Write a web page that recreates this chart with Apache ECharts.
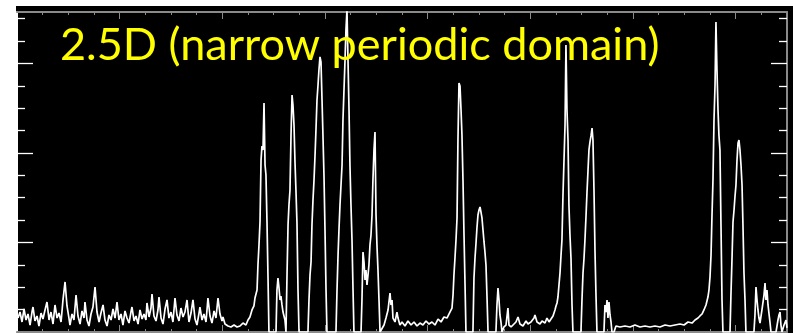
<!DOCTYPE html>
<html>
<head>
<meta charset="utf-8">
<script src="https://cdn.jsdelivr.net/npm/echarts@6/dist/echarts.min.js"></script>
<style>
  html, body { margin: 0; padding: 0; background: #ffffff; }
  #panel { position: absolute; left: 16px; top: 6px; width: 777px; height: 327px; background: #000000; }
  #chart { position: absolute; left: 0; top: 0; width: 793px; height: 333px; }
</style>
</head>
<body>
<div id="panel"></div>
<div id="chart"></div>
<script>
// ---- data ----
const titleText = '2.5D (narrow periodic domain)';

// x position along the domain (arbitrary units, 0..750)
const xs = [
  1.0, 2.9, 4.9, 6.8, 8.8, 10.7, 12.7, 14.6, 15.6, 17.5, 19.5, 21.4, 23.4, 25.3, 27.3, 29.2, 31.2, 33.1, 35.1, 37.0,
  39.0, 40.9, 42.9, 44.8, 46.8, 48.7, 50.6, 51.6, 53.6, 55.5, 57.5, 59.4, 61.4, 63.3, 65.3, 66.2, 68.2, 70.1, 72.1, 74.0,
  76.0, 77.9, 79.9, 81.8, 83.8, 85.7, 87.7, 89.6, 91.6, 93.5, 95.5, 97.4, 99.3, 101.3, 103.2, 105.2, 107.1, 109.1, 111.0, 112.0,
  114.0, 115.9, 117.9, 119.8, 121.8, 123.7, 125.6, 126.6, 128.6, 130.5, 131.5, 133.4, 135.4, 137.3, 138.3, 140.3, 142.2, 144.2, 146.1, 148.0,
  150.0, 151.9, 153.9, 155.8, 157.8, 159.7, 161.7, 163.6, 165.6, 167.5, 169.5, 171.4, 173.4, 175.3, 177.3, 178.2, 180.2, 182.1, 184.1, 186.0,
  188.0, 189.9, 191.9, 193.8, 195.8, 197.7, 199.7, 200.6, 202.6, 205.5, 208.4, 211.4, 214.3, 217.2, 220.1, 223.0, 225.0, 226.9,
  228.9, 230.8, 231.8, 233.8, 234.7, 235.7, 236.7, 237.7, 238.6, 239.6, 240.6, 241.6, 242.5, 243.5, 244.5, 245.4,
  252.3, 253.2, 254.2, 255.2, 256.2, 257.1, 258.1, 259.1, 261.0, 262.0,
  263.0, 264.0, 264.9, 265.9, 266.9, 267.9, 268.8, 269.8, 270.8, 271.7, 272.7, 273.7, 274.7, 283.4,
  284.4, 285.4, 286.4, 287.3, 288.3, 289.3, 290.3, 291.2, 292.2, 293.2, 294.1, 295.1, 296.1, 297.1, 298.0, 299.0, 300.0, 301.0, 301.9, 310.7,
  311.7, 312.7, 313.6, 314.6, 315.6, 316.6, 317.5, 318.5, 319.5, 320.4, 321.4, 322.4, 323.4, 324.3, 325.3, 326.3, 327.3, 328.2, 335.1,
  336.0, 337.0, 338.0, 339.0, 339.9, 340.9, 341.9, 342.8, 343.8, 344.8, 345.8, 346.7, 347.7, 348.7, 349.7, 350.6, 351.6, 352.6, 353.6,
  355.5, 357.5, 359.4, 361.4, 363.3, 364.3, 365.3, 366.2, 368.2, 370.1, 371.1, 373.0, 375.0, 377.9, 380.8, 383.8, 386.7, 389.6, 392.5, 395.4,
  398.4, 401.3, 404.2, 407.1, 410.1, 413.0, 415.9, 418.8, 421.7, 423.7,
  424.7, 425.6, 426.6, 427.6, 428.6, 429.5, 430.5, 431.5, 432.5, 433.4, 434.4, 435.4, 436.4, 437.3, 444.1,
  445.1, 446.1, 447.1, 448.0, 449.0, 450.0, 451.0, 451.9, 452.9, 453.9, 454.9, 455.8, 456.8, 457.8, 458.8, 466.5,
  467.5, 468.5, 469.5, 470.4, 471.4, 472.4, 474.3, 476.3, 478.2, 479.2, 481.2, 483.1, 486.0, 488.0, 489.9, 492.8, 495.8, 497.7, 500.6, 503.6,
  504.5, 506.5, 509.4, 511.4, 514.3, 516.2, 518.2, 520.1, 522.1, 524.0, 525.0, 526.0,
  526.9, 527.9, 528.9, 529.9, 530.8, 531.8, 532.8, 533.8, 534.7, 535.7, 536.7, 537.6, 538.6, 539.6, 540.6, 541.5, 549.3,
  550.3, 551.3, 552.3, 553.2, 554.2, 555.2, 556.2, 557.1, 558.1, 559.1, 560.1, 561.0, 562.0, 563.0, 563.9, 564.9, 571.7,
  572.7, 573.7, 574.7, 575.6, 576.6, 577.6, 578.6, 579.5, 581.5, 583.4, 587.3, 592.2, 597.1, 601.9, 606.8, 611.7, 616.5, 621.4, 626.3, 631.2,
  636.0, 640.9, 645.8, 649.7, 653.6, 657.5, 660.4, 663.3, 665.2, 667.2, 669.1, 671.1, 673.0, 674.0, 675.0, 676.0,
  676.9, 677.9, 678.9, 679.9, 680.8, 681.8, 682.8, 683.7, 684.7, 685.7, 686.7, 687.6, 694.5,
  695.4, 696.4, 697.4, 698.4, 699.3, 700.3, 701.3, 702.3, 703.2, 704.2, 705.2, 706.2, 707.1, 708.1, 709.1, 710.0, 717.8,
  718.8, 719.8, 720.8, 721.7, 722.7, 723.7, 725.6, 727.6, 728.6, 729.5, 730.5, 731.5, 733.4, 734.4, 739.3,
  741.2, 742.2, 743.2, 744.1, 745.1, 747.1, 749.0, 750.0
];

// signal intensity (arbitrary units)
const ys = [
  0.156, 0.223, 0.112, 0.257, 0.134, 0.201, 0.078, 0.223, 0.279, 0.123, 0.179, 0.067, 0.212, 0.145, 0.246, 0.335, 0.134, 0.223, 0.089, 0.302,
  0.156, 0.212, 0.112, 0.358, 0.559, 0.291, 0.156, 0.078, 0.201, 0.134, 0.413, 0.179, 0.089, 0.235, 0.156, 0.335, 0.134, 0.067, 0.201, 0.279,
  0.503, 0.223, 0.112, 0.212, 0.302, 0.134, 0.067, 0.19, 0.134, 0.257, 0.156, 0.335, 0.134, 0.201, 0.078, 0.235, 0.156, 0.10, 0.223, 0.279,
  0.123, 0.179, 0.089, 0.246, 0.145, 0.201, 0.134, 0.324, 0.168, 0.268, 0.425, 0.179, 0.123, 0.246, 0.391, 0.156, 0.089, 0.257, 0.358, 0.156,
  0.223, 0.112, 0.38, 0.19, 0.123, 0.268, 0.168, 0.223, 0.358, 0.112, 0.212, 0.358, 0.145, 0.078, 0.212, 0.279, 0.134, 0.201, 0.112, 0.38,
  0.179, 0.10, 0.235, 0.156, 0.38, 0.201, 0.123, 0.168, 0.089, 0.067, 0.056, 0.078, 0.056, 0.067, 0.10, 0.078, 0.134, 0.168,
  0.246, 0.291, 0.38, 0.469, 0.749, 0.972, 1.229, 1.922, 2.078, 2.034, 2.559, 1.866, 1.754, 1.229, 0.603, 0,
  0, 0.469, 0.603, 0.492, 0.358, 0.402, 0.302, 0.223, 0.134, 0,
  0.637, 1.196, 1.419, 1.587, 2.201, 2.648, 2.536, 2.313, 1.888, 1.587, 1.218, 0.469, 0, 0,
  0.358, 0.637, 0.782, 1.196, 1.475, 1.698, 1.978, 2.257, 2.592, 2.76, 2.927, 3.073, 3.017, 2.592, 2.201, 1.754, 1.14, 0.469, 0, 0,
  0.469, 0.86, 1.14, 1.419, 1.642, 1.866, 2.369, 2.704, 3.039, 3.374, 3.6, 3.039, 2.48, 1.866, 1.419, 1.028, 0.469, 0, 0,
  0.358, 0.894, 0.782, 0.581, 0.693, 0.525, 0.637, 0.749, 0.972, 1.084, 1.307, 1.698, 2.034, 2.235, 1.307, 0.972, 0.693, 0.358, 0,
  0, 0.078, 0.156, 0.246, 0.436, 0.302, 0.358, 0.156, 0.112, 0.223, 0.156, 0.078, 0.112, 0.067, 0.123, 0.078, 0.112, 0.067, 0.10, 0.078,
  0.123, 0.089, 0.112, 0.078, 0.145, 0.112, 0.168, 0.156, 0.223, 0.268,
  0.413, 0.637, 0.827, 1.028, 1.274, 2.145, 2.782, 2.749, 2.48, 2.201, 1.698, 1.084, 0.525, 0, 0,
  0.603, 0.827, 0.994, 1.162, 1.307, 1.363, 1.397, 1.341, 1.274, 1.14, 1.006, 0.894, 0.749, 0.391, 0, 0,
  0.302, 0.492, 0.358, 0.19, 0.112, 0, 0.056, 0.078, 0.268, 0.078, 0.056, 0.067, 0.112, 0.168, 0.089, 0.067, 0.123, 0.089, 0.112, 0.156,
  0.19, 0.112, 0.089, 0.123, 0.10, 0.156, 0.112, 0.134, 0.179, 0.246, 0.291, 0.324,
  0.391, 0.525, 0.659, 0.86, 1.028, 1.531, 1.922, 2.313, 3.207, 2.48, 2.145, 1.419, 1.084, 0.827, 0.302, 0, 0,
  0.358, 0.659, 0.827, 1.028, 1.285, 1.564, 1.81, 2.034, 2.123, 2.19, 2.279, 2.145, 1.587, 0.894, 0.436, 0, 0,
  0.302, 0.223, 0.358, 0.156, 0.335, 0.19, 0.112, 0, 0, 0.067, 0.056, 0.067, 0.056, 0.078, 0.056, 0.067, 0.056, 0.067, 0.056, 0.078,
  0.067, 0.078, 0.089, 0.078, 0.112, 0.10, 0.134, 0.156, 0.179, 0.201, 0.246, 0.302, 0.391, 0.469, 0.615, 0.86,
  1.285, 1.698, 2.369, 2.76, 3.464, 2.927, 2.48, 2.201, 2.034, 1.196, 0.358, 0, 0,
  0.413, 0.804, 1.229, 1.363, 1.508, 1.642, 1.922, 2.112, 2.145, 2.034, 1.866, 1.642, 1.196, 0.659, 0.358, 0, 0,
  0.19, 0.503, 0.358, 0.246, 0.156, 0.10, 0.246, 0.413, 0.547, 0.358, 0.469, 0.302, 0.112, 0, 0,
  0.134, 0.19, 0.223, 0.078, 0, 0.078, 0.134, 0.045
];

// axis extents / tick spacing
const xMin = 0, xMax = 750, xMajor = 100, xMinor = 25;
const yMin = 0, yMax = 3.575, yMajor = 1, yMinor = 0.25;

function ticksBetween(min, max, step, skipStep) {
  const out = [];
  for (let v = min + step; v < max - 1e-9; v += step) {
    const r = Math.round(v * 1000) / 1000;
    if (skipStep && Math.abs(r / skipStep - Math.round(r / skipStep)) < 1e-6) continue;
    out.push(r);
  }
  return out;
}

const seriesData = xs.map((x, i) => [x, ys[i]]);

const grey = '#8a8a8a';
const white = '#ffffff';

function xAx(position, step, len, showLine, skip) {
  return {
    type: 'value', position: position, min: xMin, max: xMax,
    axisLine: { show: showLine, onZero: false, lineStyle: { color: grey, width: 2 } },
    axisTick: { show: true, inside: true, length: len, lineStyle: { color: grey, width: 1 },
      customValues: ticksBetween(xMin, xMax, step, skip) },
    axisLabel: { show: false }, splitLine: { show: false }
  };
}
function yAx(position, step, len, lineColor, showLine, skip) {
  return {
    type: 'value', position: position, min: yMin, max: yMax,
    axisLine: { show: showLine, onZero: false, lineStyle: { color: lineColor, width: 2 } },
    axisTick: { show: true, inside: true, length: len, lineStyle: { color: white, width: 1.3 },
      customValues: ticksBetween(yMin, yMax, step, skip) },
    axisLabel: { show: false }, splitLine: { show: false }
  };
}

const chart = echarts.init(document.getElementById('chart'), null, { renderer: 'canvas' });
chart.setOption({
  backgroundColor: 'transparent',
  animation: false,
  grid: { left: 17, top: 12, width: 770, height: 320 },
  xAxis: [
    xAx('bottom', xMajor, 7, true, null),
    xAx('top', xMajor, 7, true, null),
    xAx('top', xMinor, 3, false, xMajor),
    xAx('bottom', xMinor, 3, false, xMajor)
  ],
  yAxis: [
    yAx('left', yMajor, 16, white, true, null),
    yAx('left', yMinor, 8, white, false, yMajor),
    yAx('right', yMajor, 16, grey, true, null),
    yAx('right', yMinor, 8, grey, false, yMajor)
  ],
  graphic: [{
    type: 'text', left: 60, top: 23, z: 100,
    style: { text: titleText, fill: '#ffff00', font: '45px Lato', fontFamily: 'Lato', fontSize: 45 }
  }],
  series: [{
    type: 'line', xAxisIndex: 0, yAxisIndex: 0, data: seriesData,
    showSymbol: false, symbol: 'none', clip: true,
    lineStyle: { color: white, width: 1.7 }
  }]
});
</script>
</body>
</html>
